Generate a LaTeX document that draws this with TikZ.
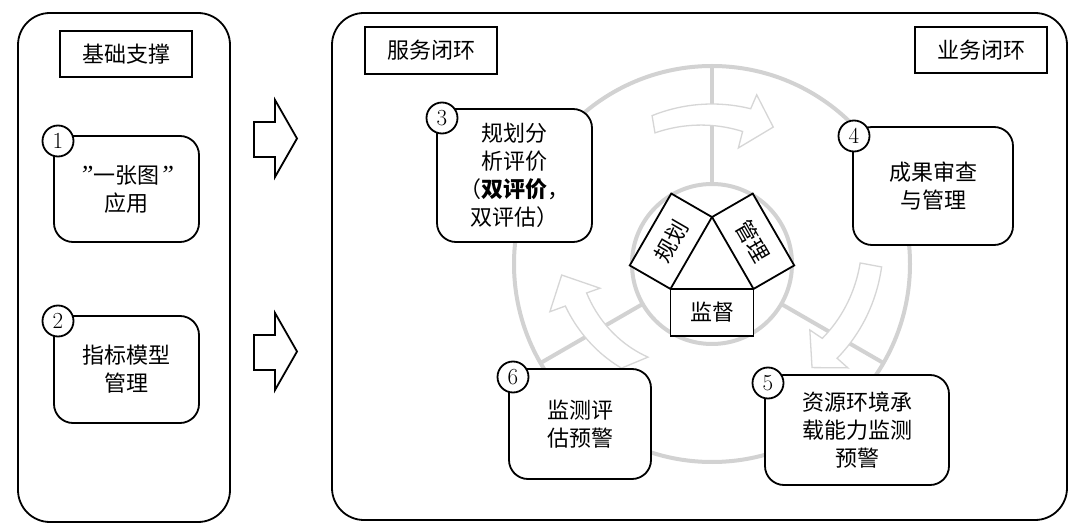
\documentclass[tikz,border=0pt]{standalone}
\usepackage{fontspec}
\newfontfamily\cjk{Noto Sans CJK SC}
\newfontfamily\qf{Liberation Serif}
\usetikzlibrary{calc}
\definecolor{gline}{RGB}{210,210,210}
\definecolor{garr}{RGB}{214,214,214}
\tikzset{
  panel/.style={draw, line width=1.8pt, rounded corners=32pt, fill=white, inner sep=0pt},
  titlebox/.style={draw, line width=1.8pt, fill=white, inner sep=0pt, font=\cjk\fontsize{22}{28}\selectfont},
  itembox/.style={draw, line width=1.8pt, fill=white, rounded corners=19pt, inner sep=0pt, align=center, font=\cjk\fontsize{22}{28}\selectfont},
  numcirc/.style={circle, draw, line width=1.8pt, fill=white, minimum size=31pt, inner sep=0pt, font=\fontsize{23}{25}\selectfont},
  corebox/.style={draw, line width=1.8pt, fill=white, inner sep=0pt, minimum width=83pt, minimum height=47pt, font=\cjk\fontsize{22}{28}\selectfont},
  blockarrow/.style={draw, line width=1.8pt, fill=white, line join=miter},
  spoke/.style={draw=gline, line width=4pt},
  garrow/.style={draw=garr, line width=1.3pt, fill=white, line join=miter},
}
\newcommand\myquote{{\qf\itshape\fontsize{26}{28}\selectfont ”}}
\begin{document}
\begin{tikzpicture}[x=1pt,y=1pt]
\useasboundingbox (0,0) rectangle (1080,-529);
\fill[white] (0,0) rectangle (1080,-529);

% panels
\node[panel, minimum width=212pt, minimum height=509pt] (left) at (124,-267.5) {};
\node[panel, minimum width=735pt, minimum height=507pt] (right) at (699.5,-266.5) {};

% grey background ring
\coordinate (O) at (712,-264);
\draw[gline, line width=4pt] (O) circle[radius=198];
\draw[gline, line width=4pt] (O) circle[radius=80];
\foreach \a in {90,210,330}{
  \draw[spoke] ($(O)+(\a:80)$) -- ($(O)+(\a:198)$);
}

% grey curved arrows
\draw[garrow] plot[domain=112:76,samples=20] ({712+160*cos(\x)},{-264+160*sin(\x)})
  -- ($(O)+(75.2:175)$) -- ($(O)+(65.9:150)$) -- ($(O)+(77.2:119)$)
  -- plot[domain=77:113.5,samples=20] ({712+(136+7*(\x-77)/36.5)*cos(\x)},{-264+(136+7*(\x-77)/36.5)*sin(\x)})
  -- cycle;
\draw[garrow] plot[domain=-1:-37,samples=20] ({712+(170+13*\x/36)*cos(\x)},{-264+(170+13*\x/36)*sin(\x)})
  -- ($(O)+(-37.4:171)$) -- ($(O)+(-46:144)$) -- ($(O)+(-34:118)$)
  -- plot[domain=-34:0.4,samples=20] ({712+(148+15*\x/34)*cos(\x)},{-264+(148+15*\x/34)*sin(\x)})
  -- cycle;
\draw[garrow] plot[domain=229:196,samples=20] ({712+(152.6-14.6*(\x-196)/33)*cos(\x)},{-264+(152.6-14.6*(\x-196)/33)*sin(\x)})
  -- ($(O)+(196.4:169)$) -- ($(O)+(184.2:150.7)$) -- ($(O)+(192.2:114.6)$)
  -- plot[domain=193:235.5,samples=20] ({712+(128.7-15.7*(\x-193)/42.5)*cos(\x)},{-264+(128.7-15.7*(\x-193)/42.5)*sin(\x)})
  -- cycle;

% title boxes
\node[titlebox, minimum width=132pt, minimum height=46pt] (jichu) at (126,-54) {基础支撑};
\node[titlebox, minimum width=132pt, minimum height=47pt] (fuwu) at (431,-50.5) {服务闭环};
\node[titlebox, minimum width=132pt, minimum height=46pt] (yewu) at (981,-50) {业务闭环};

% left items
\node[itembox, minimum width=145pt, minimum height=106pt] (b1) at (126.5,-189) {\myquote 一张图\myquote\\应用};
\node[numcirc] (c1) at (58,-141) {1};
\node[itembox, minimum width=145pt, minimum height=107pt] (b2) at (126.5,-369.5) {指标模型\\管理};
\node[numcirc] (c2) at (58,-321) {2};

% block arrows
\draw[blockarrow] (254,-122) -- (275,-122) -- (275,-100) -- (297,-138.5) -- (275,-177) -- (275,-157) -- (254,-157) -- cycle;
\draw[blockarrow] (254,-335) -- (275,-335) -- (275,-313) -- (297,-351.5) -- (275,-390) -- (275,-370) -- (254,-370) -- cycle;

% right items
\node[itembox, minimum width=155pt, minimum height=133pt] (b3) at (514.5,-175.5) {规划分\\析评价\\（\textbf{双评价}，\\双评估）};
\node[numcirc] (c3) at (442,-118) {3};
\node[itembox, minimum width=160pt, minimum height=118pt] (b4) at (933,-186) {成果审查\\与管理};
\node[numcirc] (c4) at (854,-136) {4};
\node[itembox, minimum width=184pt, minimum height=110pt] (b5) at (857,-430) {资源环境承\\载能力监测\\预警};
\node[numcirc] (c5) at (768,-383) {5};
\node[itembox, minimum width=142pt, minimum height=110pt] (b6) at (580,-424) {监测评\\估预警};
\node[numcirc] (c6) at (513,-377) {6};

% core triangle boxes
\coordinate (T) at (712,-265);
\node[corebox] (jiandu) at ($(T)+(270:47.5)$) {监督};
\node[corebox, rotate=60] (guihua) at ($(T)+(150:47.5)$) {规划};
\node[corebox, rotate=-60] (guanli) at ($(T)+(30:47.5)$) {管理};
\end{tikzpicture}
\end{document}
